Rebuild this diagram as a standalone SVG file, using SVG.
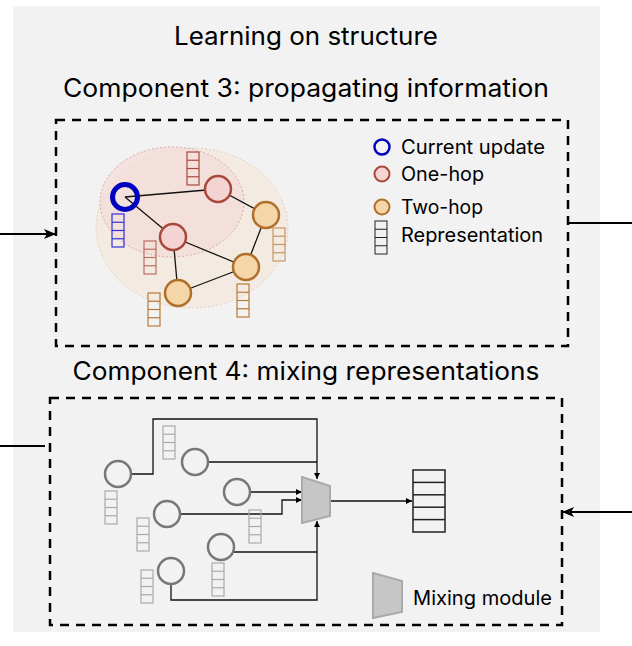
<svg xmlns="http://www.w3.org/2000/svg" width="632" height="646" viewBox="0 0 632 646">
<defs>
<marker id="bigArrow" viewBox="0 0 12 10" refX="11" refY="5" markerWidth="12" markerHeight="10" markerUnits="userSpaceOnUse" orient="auto">
<path d="M0,0 L12,5 L0,10 L3,5 Z" fill="#000"/>
</marker>
<marker id="smallArrow" viewBox="0 0 6 6" refX="6" refY="3" markerWidth="6" markerHeight="6" markerUnits="userSpaceOnUse" orient="auto">
<path d="M0,0 L6,3 L0,6 Z" fill="#000"/>
</marker>
<g id="rep4">
<rect x="0" y="0" width="12" height="33" fill="none"/>
<line x1="0" y1="8.25" x2="12" y2="8.25"/>
<line x1="0" y1="16.5" x2="12" y2="16.5"/>
<line x1="0" y1="24.75" x2="12" y2="24.75"/>
</g>
</defs>
<style>
.title{font-family:Inter,"Liberation Sans",sans-serif;font-size:25px;fill:#000;}
.lbl{font-family:Inter,"Liberation Sans",sans-serif;font-size:19.5px;fill:#000;}
.box{fill:none;stroke:#000;stroke-width:2.5;stroke-dasharray:9 7;}
.edge{stroke:#111;stroke-width:1.3;fill:none;}
.wire{stroke:#111;stroke-width:1.3;fill:none;}
.blue{fill:none;stroke:#0000c0;stroke-width:5;}
.pink{fill:#f4d4d2;stroke:#a8483a;stroke-width:2.5;}
.orange{fill:#f4d6a9;stroke:#b0702a;stroke-width:2.5;}
.gnode{fill:none;stroke:#777;stroke-width:2.5;}
.repBlue{stroke:#3030e0;stroke-width:1.2;}
.repBrown{stroke:#a8483a;stroke-width:1.2;}
.repOrange{stroke:#b87a3a;stroke-width:1.2;}
.repGray{stroke:#aaa;stroke-width:1.2;}
.repBlack{stroke:#222;stroke-width:1;}
.mix{fill:#c6c6c6;stroke:#aaa;stroke-width:2;}
</style>
<rect x="13" y="6" width="587" height="626" fill="#f2f2f2"/>
<text class="title" x="306" y="45" text-anchor="middle" textLength="264" lengthAdjust="spacingAndGlyphs">Learning on structure</text>
<text class="title" x="306" y="97" text-anchor="middle" textLength="486" lengthAdjust="spacingAndGlyphs">Component 3: propagating information</text>
<text class="title" x="306" y="380" text-anchor="middle" textLength="467" lengthAdjust="spacingAndGlyphs">Component 4: mixing representations</text>

<g id="component3">
<rect class="box" x="56" y="120" width="512" height="226"/>
<ellipse cx="192" cy="228" rx="96" ry="80" fill="#f3e9dc" fill-opacity="0.8" stroke="#e6d0b8" stroke-width="1" stroke-dasharray="2 2"/>
<ellipse cx="172" cy="202" rx="72" ry="55" fill="#f3dcd8" fill-opacity="0.7" stroke="#d9aaa5" stroke-width="1" stroke-dasharray="2 2"/>
</g>
<g id="connectors">
<line class="edge" x1="125" y1="197" x2="218" y2="189"/>
<line class="edge" x1="125" y1="197" x2="173" y2="237"/>
<line class="edge" x1="218" y1="189" x2="266" y2="215"/>
<line class="edge" x1="173" y1="237" x2="246" y2="267"/>
<line class="edge" x1="173" y1="237" x2="178" y2="293"/>
<line class="edge" x1="178" y1="293" x2="246" y2="267"/>
<line class="edge" x1="266" y1="215" x2="246" y2="267"/>
<line x1="0" y1="234" x2="55" y2="234" stroke="#000" stroke-width="2" marker-end="url(#bigArrow)"/>
<line x1="569" y1="223" x2="632" y2="223" stroke="#000" stroke-width="2"/>
<line x1="0" y1="446" x2="45" y2="446" stroke="#000" stroke-width="2"/>
<line x1="632" y1="512" x2="563" y2="512" stroke="#000" stroke-width="2" marker-end="url(#bigArrow)"/>
<polyline class="wire" points="131,474 153,474 153,419 317,419 317,479" marker-end="url(#smallArrow)"/>
<line class="wire" x1="208" y1="462" x2="317" y2="462"/>
<line class="wire" x1="250" y1="492" x2="302" y2="492" marker-end="url(#smallArrow)"/>
<polyline class="wire" points="180,514 282,514 282,500 302,500" marker-end="url(#smallArrow)"/>
<polyline class="wire" points="171,584 171,600 317,600 317,521" marker-end="url(#smallArrow)"/>
<line class="wire" x1="234" y1="552" x2="317" y2="552"/>
<line class="wire" x1="330" y1="501" x2="412" y2="501" marker-end="url(#smallArrow)"/>
</g>
<g id="node-current">
<circle class="blue" cx="125" cy="197" r="12.5"/>
<use href="#rep4" x="112" y="214" class="repBlue"/>
</g>
<g id="node-onehop-1">
<circle class="pink" cx="218" cy="189" r="13"/>
<use href="#rep4" x="187" y="152" class="repBrown"/>
</g>
<g id="node-onehop-2">
<circle class="pink" cx="173" cy="237" r="13"/>
<use href="#rep4" x="144" y="241" class="repBrown" opacity="0.75"/>
</g>
<g id="node-twohop-1">
<circle class="orange" cx="266" cy="215" r="13"/>
<use href="#rep4" x="273" y="228" class="repOrange" opacity="0.75"/>
</g>
<g id="node-twohop-2">
<circle class="orange" cx="246" cy="267" r="13"/>
<use href="#rep4" x="237" y="284" class="repOrange"/>
</g>
<g id="node-twohop-3">
<circle class="orange" cx="178" cy="293" r="13"/>
<use href="#rep4" x="148" y="293" class="repOrange"/>
</g>
<g id="legend3">
<circle cx="382" cy="147" r="7.5" fill="none" stroke="#0000c0" stroke-width="2.5"/>
<text class="lbl" x="401" y="154" textLength="144" lengthAdjust="spacingAndGlyphs">Current update</text>
<circle cx="382" cy="174" r="7.5" fill="#f4d4d2" stroke="#a8483a" stroke-width="2"/>
<text class="lbl" x="401" y="181" textLength="83" lengthAdjust="spacingAndGlyphs">One-hop</text>
<circle cx="382" cy="207" r="7.5" fill="#f4d6a9" stroke="#b0702a" stroke-width="2"/>
<text class="lbl" x="401" y="214" textLength="82" lengthAdjust="spacingAndGlyphs">Two-hop</text>
<use href="#rep4" x="375" y="221" class="repBlack"/>
<text class="lbl" x="401" y="242" textLength="142" lengthAdjust="spacingAndGlyphs">Representation</text>
</g>

<g id="component4">
<rect class="box" x="50" y="398" width="512" height="227"/>
</g>
<g id="mix-n1"><circle class="gnode" cx="118" cy="474" r="13"/><use href="#rep4" x="105" y="491" class="repGray"/></g>
<g id="mix-n2"><circle class="gnode" cx="195" cy="462" r="13"/><use href="#rep4" x="163" y="426" class="repGray"/></g>
<g id="mix-n3"><circle class="gnode" cx="237" cy="492" r="13"/><use href="#rep4" x="249" y="510" class="repGray"/></g>
<g id="mix-n4"><circle class="gnode" cx="167" cy="514" r="13"/><use href="#rep4" x="137" y="518" class="repGray"/></g>
<g id="mix-n5"><circle class="gnode" cx="221" cy="547" r="13"/><use href="#rep4" x="212" y="563" class="repGray"/></g>
<g id="mix-n6"><circle class="gnode" cx="171" cy="571" r="13"/><use href="#rep4" x="141" y="570" class="repGray"/></g>
<g id="mixing-module">
<polygon class="mix" points="302,477 330,486 330,516 302,523"/>
</g>
<g id="output-rep">
<rect x="413" y="470" width="32" height="62" fill="none" stroke="#222" stroke-width="1.5"/>
<line x1="413" y1="482.4" x2="445" y2="482.4" stroke="#222" stroke-width="1.5"/>
<line x1="413" y1="494.8" x2="445" y2="494.8" stroke="#222" stroke-width="1.5"/>
<line x1="413" y1="507.2" x2="445" y2="507.2" stroke="#222" stroke-width="1.5"/>
<line x1="413" y1="519.6" x2="445" y2="519.6" stroke="#222" stroke-width="1.5"/>
</g>
<g id="legend4">
<polygon class="mix" points="373,573 402,581 402,612 373,618"/>
<text class="lbl" x="413" y="605" textLength="139" lengthAdjust="spacingAndGlyphs">Mixing module</text>
</g>
</svg>
